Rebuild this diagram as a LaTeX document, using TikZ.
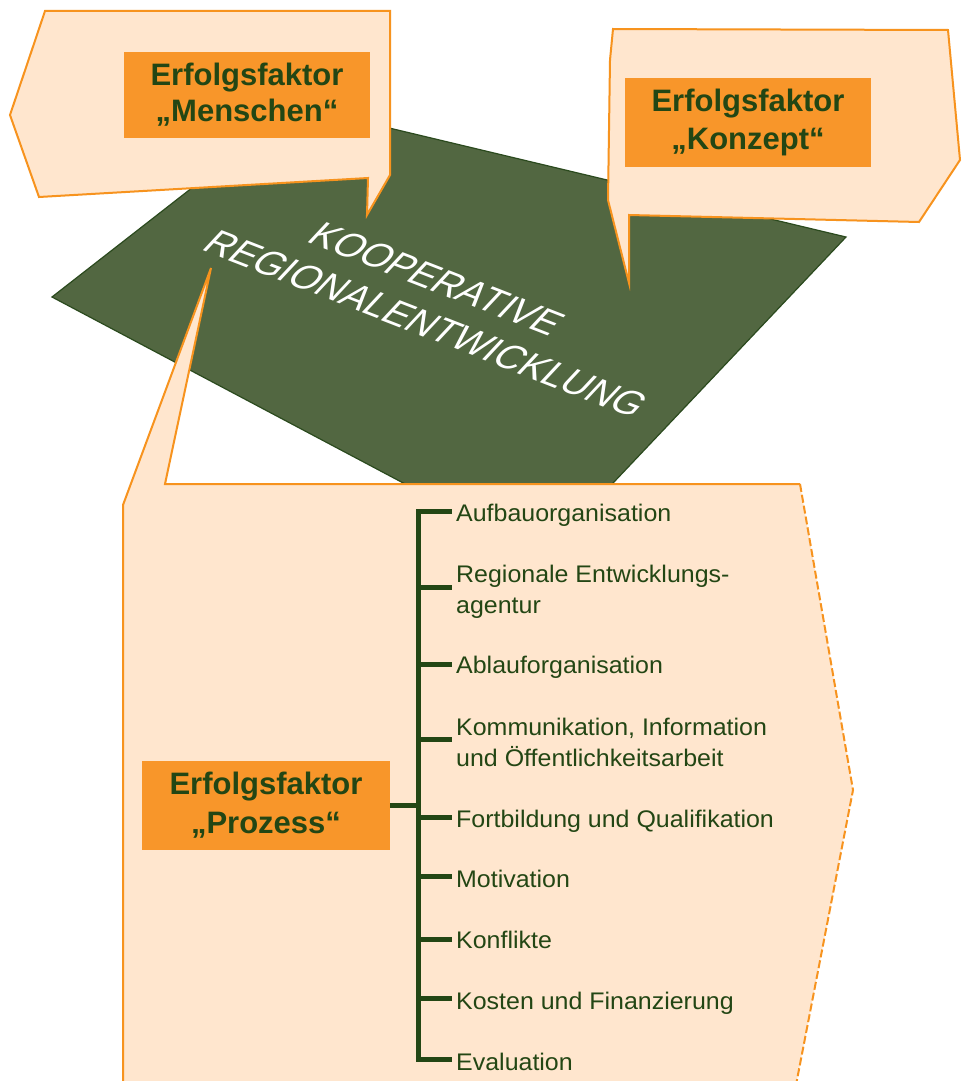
\documentclass[tikz,border=0pt]{standalone}
\usepackage{fontspec}
\setmainfont{Liberation Sans}
\newfontfamily\itemfont[FakeStretch=1.04]{Liberation Sans}
\definecolor{peach}{HTML}{FFE6CE}
\definecolor{orline}{HTML}{F7931E}
\definecolor{orbox}{HTML}{F8962A}
\definecolor{dgreen}{HTML}{234614}
\definecolor{plategreen}{HTML}{526741}
\definecolor{plateedge}{HTML}{2B4A1E}
\begin{document}
\begin{tikzpicture}[x=1pt,y=-1pt,
  callout/.style={fill=peach, draw=orline, line width=2pt, line join=miter},
  factor/.style={fill=orbox, text=dgreen, align=center, inner sep=0pt,
    font=\fontsize{31}{#1}\selectfont\bfseries},
  item/.style={anchor=base west, inner sep=0pt, text=dgreen, align=left,
    font=\itemfont\fontsize{24}{31}\selectfont},
  bar/.style={draw=dgreen, line width=5pt},
  plate/.style={fill=plategreen, draw=plateedge, line width=1.2pt},
  platetext/.style={text=white, inner sep=0pt, rotate=-21.3, xslant=0.4,
    font=\fontsize{37}{37}\selectfont}]
\useasboundingbox (0,0) rectangle (961,1081);
\clip (0,0) rectangle (961,1081);
\fill[white] (0,0) rectangle (961,1081);

% green plate
\path[plate] (297,106) -- (846,237) -- (543,557) -- (52,297) -- cycle;
\node[platetext] (t1) at (437,279) {KOOPERATIVE};
\node[platetext] (t2) at (426,324) {REGIONALENTWICKLUNG};

% callout Menschen
\path[callout] (45,11) -- (390,11) -- (390,175) -- (367,215) -- (368,178)
  -- (39,197) -- (10,115) -- cycle;
% callout Konzept
\path[callout] (613,29) -- (948,30) -- (960,160) -- (919,222) -- (629,215)
  -- (629,283) -- (608,200) -- (610,60) -- cycle;
% callout Prozess
\fill[peach] (165,484) -- (800,484) -- (853,790) -- (795,1090) -- (123,1090)
  -- (123,505) -- (211,268) -- cycle;
\draw[orline, line width=2pt, line join=miter] (800,484) -- (165,484) -- (211,268)
  -- (123,505) -- (123,1090);
\draw[orline, line width=2pt, dash pattern=on 8pt off 3pt] (800,484) -- (853,790) -- (795,1090);

% factor boxes
\node[factor=36, minimum width=246pt, minimum height=86pt] (me) at (247,95)
  {Erfolgsfaktor\\„Menschen“};
\node[factor=37.5, minimum width=246pt, minimum height=89pt] (ko) at (748,122.5)
  {Erfolgsfaktor\\„Konzept“};
\node[factor=39, minimum width=248pt, minimum height=89pt] (pz) at (266,805.5)
  {Erfolgsfaktor\\„Prozess“};

% items
\node[item] (i1) at (456,521) {Aufbauorganisation};
\node[item] (i2) at (456,613) {Regionale Entwicklungs-\\agentur};
\node[item] (i3) at (456,673) {Ablauforganisation};
\node[item] (i4) at (456,766) {Kommunikation, Information\\und Öffentlichkeitsarbeit};
\node[item] (i5) at (456,827) {Fortbildung und Qualifikation};
\node[item] (i6) at (456,887) {Motivation};
\node[item] (i7) at (456,948) {Konflikte};
\node[item] (i8) at (456,1009) {Kosten und Finanzierung};
\node[item] (i9) at (456,1070) {Evaluation};

% bracket
\coordinate (s1) at (418,511);
\coordinate (s2) at (418,587);
\coordinate (s3) at (418,664);
\coordinate (s4) at (418,739);
\coordinate (s5) at (418,817);
\coordinate (s6) at (418,876);
\coordinate (s7) at (418,939);
\coordinate (s8) at (418,998);
\coordinate (s9) at (418,1059);
\draw[bar, line cap=rect] (s1) -- (s9);
\foreach \k in {1,...,9}{
  \draw[bar, shorten >=4pt] (s\k) -- (s\k -| i\k.west);
}
\draw[bar] (pz.east) -- (pz.east -| s1);
\end{tikzpicture}
\end{document}
